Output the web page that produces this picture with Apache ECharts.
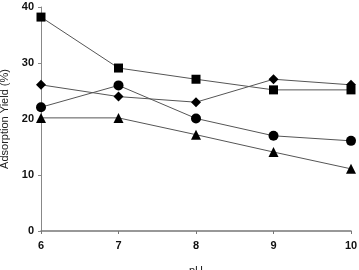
<!DOCTYPE html>
<html>
<head>
<meta charset="utf-8">
<script src="https://cdn.jsdelivr.net/npm/echarts@6/dist/echarts.min.js"></script>
<style>
  html, body { margin: 0; padding: 0; background: #fff; }
  #chart { width: 359px; height: 270px; }
</style>
</head>
<body>
<div id="chart"></div>
<script>
// pH values on the x axis
const phValues = [6, 7, 8, 9, 10];

// adsorption yield (%) per series
const squareYield = [38.2, 29.1, 27.1, 25.2, 25.2];
const diamondYield = [26.1, 24.0, 23.0, 27.1, 26.1];
const circleYield = [22.1, 26.0, 20.1, 17.0, 16.1];
const triangleYield = [20.2, 20.2, 17.2, 14.1, 11.1];

const font = 'Liberation Sans, Arial, sans-serif';

const chart = echarts.init(document.getElementById('chart'));

function makeSeries(name, values, symbol, size) {
  return {
    name: name,
    type: 'line',
    data: phValues.map((x, i) => [x, values[i]]),
    symbol: symbol,
    symbolSize: size,
    lineStyle: { color: '#555', width: 1 },
    itemStyle: { color: '#000' },
    animation: false
  };
}

const diamondPath = 'path://M0,-1L1,0L0,1L-1,0Z';

chart.setOption({
  grid: { left: 41, right: 8, top: 7, bottom: 39, outerBoundsMode: 'none' },
  xAxis: {
    type: 'value',
    min: 6,
    max: 10,
    interval: 1,
    name: 'pH',
    nameLocation: 'middle',
    nameGap: 34,
    nameTextStyle: { fontFamily: font, fontSize: 11, color: '#222' },
    axisLine: { lineStyle: { color: '#777', width: 1.5 } },
    axisTick: { show: true, length: 3, lineStyle: { color: '#777' } },
    axisLabel: { fontFamily: font, fontSize: 11, fontWeight: 'bold', color: '#111', margin: 9 },
    splitLine: { show: false }
  },
  yAxis: {
    type: 'value',
    min: 0,
    max: 40,
    interval: 10,
    name: 'Adsorption Yield (%)',
    nameLocation: 'middle',
    nameGap: 31,
    nameTextStyle: { fontFamily: font, fontSize: 11, color: '#222' },
    axisLine: { show: true, lineStyle: { color: '#888', width: 1 } },
    axisTick: { show: true, length: 3, lineStyle: { color: '#888' } },
    axisLabel: { fontFamily: font, fontSize: 11, fontWeight: 'bold', color: '#111', margin: 7 },
    splitLine: { show: false }
  },
  series: [
    makeSeries('square', squareYield, 'rect', 9),
    makeSeries('diamond', diamondYield, diamondPath, 10),
    makeSeries('circle', circleYield, 'circle', 10),
    makeSeries('triangle', triangleYield, 'triangle', 10)
  ]
});
</script>
</body>
</html>
